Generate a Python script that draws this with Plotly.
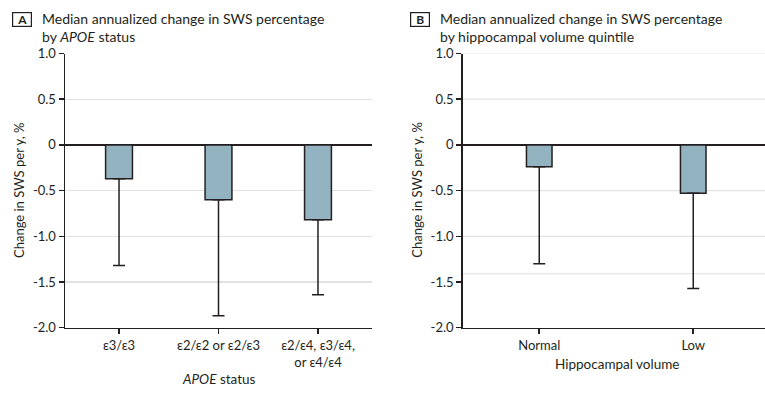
import plotly.graph_objects as go

# ---- data ----
apoe_categories = ["ε3/ε3", "ε2/ε2 or ε2/ε3", "ε2/ε4, ε3/ε4,<br>or ε4/ε4"]
apoe_median = [-0.37, -0.60, -0.82]
apoe_lower = [-1.32, -1.87, -1.64]

hippo_categories = ["Normal", "Low"]
hippo_median = [-0.24, -0.53]
hippo_lower = [-1.30, -1.57]

y_tickvals = [1.0, 0.5, 0, -0.5, -1.0, -1.5, -2.0]
y_ticktext = ["1.0", "0.5", "0", "-0.5", "-1.0", "-1.5", "-2.0"]
b_gridlines = [1.0, 0.5, -0.5, -1.0, -1.41]

FONT = "Lato, Roboto, Liberation Sans, sans-serif"
DARK = "#231f20"
BAR = "#93b3c0"
GRID = "#e2e2e2"

W, H = 765, 395

def px_x(p):
    return p / W

def px_y(p):
    return 1 - p / H

fig = go.Figure()

fig.add_trace(go.Bar(
    x=list(range(len(apoe_categories))), y=apoe_median, width=0.27,
    marker=dict(color=BAR, line=dict(color=DARK, width=1.5)),
    error_y=dict(type="data", symmetric=False,
                 array=[0] * len(apoe_median),
                 arrayminus=[m - l for m, l in zip(apoe_median, apoe_lower)],
                 color=DARK, thickness=1.5, width=6),
    xaxis="x", yaxis="y", showlegend=False, hoverinfo="skip"))

fig.add_trace(go.Bar(
    x=list(range(len(hippo_categories))), y=hippo_median, width=0.166,
    marker=dict(color=BAR, line=dict(color=DARK, width=1.5)),
    error_y=dict(type="data", symmetric=False,
                 array=[0] * len(hippo_median),
                 arrayminus=[m - l for m, l in zip(hippo_median, hippo_lower)],
                 color=DARK, thickness=1.5, width=6),
    xaxis="x2", yaxis="y2", showlegend=False, hoverinfo="skip"))

ydom = [px_y(327.7), px_y(53.5)]

common_y = dict(range=[-2, 1], tickvals=y_tickvals, ticktext=y_ticktext,
                ticks="outside", ticklen=5, tickwidth=1.5, tickcolor=DARK,
                showline=True, linecolor=DARK, linewidth=1.5,
                zeroline=True, zerolinecolor=DARK, zerolinewidth=1.5,
                tickfont=dict(family=FONT, size=13, color=DARK),
                domain=ydom, fixedrange=True)

common_x = dict(ticks="outside", ticklen=5, tickwidth=1.5, tickcolor=DARK,
                showline=True, linecolor=DARK, linewidth=1.5, showgrid=False,
                zeroline=False, fixedrange=True,
                tickfont=dict(family=FONT, size=13, color=DARK))

fig.update_layout(
    width=W, height=H,
    margin=dict(l=0, r=0, t=0, b=0, autoexpand=False),
    paper_bgcolor="white", plot_bgcolor="white",
    font=dict(family=FONT, color=DARK),
    xaxis=dict(domain=[px_x(65), px_x(372)], range=[-0.543, 2.543],
               tickvals=list(range(len(apoe_categories))), ticktext=apoe_categories,
               anchor="y", **common_x),
    yaxis=dict(anchor="x", showgrid=True, gridcolor=GRID, gridwidth=1.2, **common_y),
    xaxis2=dict(domain=[px_x(462.7), 1.0], range=[-0.497, 1.466],
                tickvals=list(range(len(hippo_categories))), ticktext=hippo_categories,
                anchor="y2", **common_x),
    yaxis2=dict(anchor="x2", showgrid=False, **common_y),
    bargap=0,
)

for g in b_gridlines:
    fig.add_shape(type="line", xref="x2 domain", yref="y2", x0=0, x1=1, y0=g, y1=g,
                  line=dict(color=GRID, width=1.2), layer="below")

ann = []
# panel labels
for lbl, cx in [("A", 22.3), ("B", 420.0)]:
    ann.append(dict(text="<b>%s</b>" % lbl, x=px_x(cx), y=px_y(19), xref="paper", yref="paper",
                    xanchor="center", yanchor="middle", showarrow=False,
                    font=dict(family=FONT, size=12, color=DARK),
                    bordercolor=DARK, borderwidth=1.2, width=16, height=11, borderpad=1))
# titles
titles = [
    (40, "Median annualized change in SWS percentage<br>by <i>APOE</i> status"),
    (437.7, "Median annualized change in SWS percentage<br>by hippocampal volume quintile"),
]
for x0, txt in titles:
    ann.append(dict(text=txt, x=px_x(x0), y=px_y(7.5), xref="paper", yref="paper",
                    xanchor="left", yanchor="top", align="left", showarrow=False,
                    font=dict(family=FONT, size=14, color=DARK)))
# y titles
for cx in [19, 416.7]:
    ann.append(dict(text="Change in SWS per y, %", x=px_x(cx), y=px_y(190), xref="paper", yref="paper",
                    xanchor="center", yanchor="middle", textangle=-90, showarrow=False,
                    font=dict(family=FONT, size=13, color=DARK)))
# x titles
ann.append(dict(text="<i>APOE</i> status", x=px_x(218.5), y=px_y(379), xref="paper", yref="paper",
                xanchor="center", yanchor="middle", showarrow=False,
                font=dict(family=FONT, size=13.5, color=DARK)))
ann.append(dict(text="Hippocampal volume", x=px_x(616.7), y=px_y(364), xref="paper", yref="paper",
                xanchor="center", yanchor="middle", showarrow=False,
                font=dict(family=FONT, size=13.5, color=DARK)))
fig.update_layout(annotations=ann, hovermode=False)

fig.write_html("out.html", config={"displayModeBar": False, "staticPlot": True},
               post_script="document.body.style.margin='0';document.body.style.overflow='hidden';")
